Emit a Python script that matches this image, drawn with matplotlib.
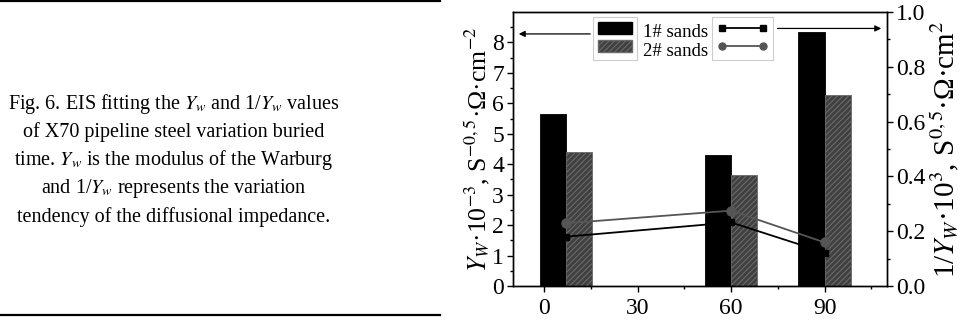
import numpy as np
import matplotlib
matplotlib.use("Agg")
import matplotlib.pyplot as plt
from matplotlib.patches import Patch
from matplotlib.lines import Line2D
from matplotlib import font_manager

names = {f.name for f in font_manager.fontManager.ttflist}
serif = [n for n in ['Liberation Serif', 'STIXGeneral', 'DejaVu Serif'] if n in names]
plt.rcParams['font.family'] = serif
plt.rcParams['mathtext.fontset'] = 'stix'
plt.rcParams['hatch.linewidth'] = 0.8

# buried time (days)
days = [7, 60, 90]
# Warburg modulus Yw*10^-3 (left axis)
yw_sand1 = [5.64, 4.29, 8.33]
yw_sand2 = [4.40, 3.65, 6.27]
# 1/Yw*10^3 (right axis)
inv_sand1 = [0.180, 0.232, 0.122]
inv_sand2 = [0.229, 0.275, 0.159]
sand_labels = ['1# sands', '2# sands']
xticks = [0, 30, 60, 90]

caption = [
    r'Fig. 6. EIS fitting the $Y_w$ and 1/$Y_w$ values',
    'of X70 pipeline steel variation buried',
    r'time. $Y_w$ is the modulus of the Warburg',
    r'and 1/$Y_w$ represents the variation',
    'tendency of the diffusional impedance.',
]

W, H = 960, 323
fig = plt.figure(figsize=(9.6, 3.23), dpi=100)

# caption block with rules above and below
fig.add_artist(Line2D([0, 440 / W], [1 - 1 / H, 1 - 1 / H], color='black', lw=1.6))
fig.add_artist(Line2D([0, 440 / W], [1 - 315 / H, 1 - 315 / H], color='black', lw=1.6))
for i, line in enumerate(caption):
    fig.text(174 / W, 1 - (108.5 + 28.3 * i) / H, line, ha='center', va='baseline',
             fontsize=14.5)

ax = fig.add_axes([513 / W, 1 - 286 / H, 374 / W, 274 / H])
bw = 8.4
x = np.array(days, dtype=float)
ax.bar(x - bw / 2, yw_sand1, width=bw, color='black', edgecolor='black', lw=0.6, zorder=2)
ax.bar(x + bw / 2, yw_sand2, width=bw, color='#404040', edgecolor='#6a6a6a',
       hatch='//////', lw=0.6, zorder=2)

ax.set_xlim(-10, 110)
ax.set_ylim(0, 9)
ax.set_xticks(xticks)
ax.set_xticks([15, 45, 75, 105], minor=True)
ax.set_yticks(range(0, 9))
ax.set_yticks(np.arange(0.5, 9, 1.0), minor=True)
ax.tick_params(which='major', direction='out', length=4.5, width=1, labelsize=17, pad=2)
ax.tick_params(which='minor', direction='out', length=2.5, width=1)
ax.tick_params(axis='x', which='major', pad=4)
ax.set_ylabel(r'$Y_W$·10$^{-3}$, S$^{-0,5}$·Ω·cm$^{-2}$', fontsize=18.5, labelpad=0)

ax2 = ax.twinx()
ax2.plot(days, inv_sand1, '-s', color='black', ms=4, lw=1.3, zorder=3)
ax2.plot(days, inv_sand2, '-o', color='#555555', ms=6.5, lw=1.3, zorder=3)
ax2.set_ylim(0, 1.0)
ax2.set_yticks(np.arange(0, 1.01, 0.2))
ax2.set_yticks(np.arange(0.1, 1.0, 0.2), minor=True)
ax2.yaxis.set_major_formatter(matplotlib.ticker.FormatStrFormatter('%.1f'))
ax2.tick_params(which='major', direction='out', length=4.5, width=1, labelsize=17, pad=2)
ax2.tick_params(which='minor', direction='out', length=2.5, width=1)
ax2.set_ylabel(r'1/$Y_W$·10$^{3}$, S$^{0,5}$·Ω·cm$^{2}$', fontsize=21, labelpad=2)
for a in (ax, ax2):
    for s in a.spines.values():
        s.set_linewidth(1.0)

# legends: bar handles and line handles in separate frames, names between them
bar_handles = [Patch(facecolor='black', edgecolor='black'),
               Patch(facecolor='#404040', edgecolor='#6a6a6a', hatch='//////')]
line_handles = [Line2D([], [], color='black', marker='s', ms=4, lw=1.3),
                Line2D([], [], color='#555555', marker='o', ms=5, lw=1.3)]
leg_kw = dict(loc='upper left', borderaxespad=0, fontsize=11, handleheight=0.8,
              handletextpad=0, labelspacing=0.25, borderpad=0.35, fancybox=False,
              edgecolor='#cccccc', framealpha=1)
leg1 = ax2.legend(bar_handles, ['', ''], bbox_to_anchor=(0.214, 0.982),
                  handlelength=2.2, **leg_kw)
leg1.get_frame().set_linewidth(0.8)
ax2.add_artist(leg1)
leg2 = ax2.legend(line_handles, ['', ''], bbox_to_anchor=(0.532, 0.982),
                  handlelength=3.3, numpoints=2, **leg_kw)
leg2.get_frame().set_linewidth(0.8)
for i, lab in enumerate(sand_labels):
    ax2.text(0.347, 0.925 - 0.07 * i, lab, transform=ax2.transAxes, fontsize=13.5,
             va='center', ha='left')

# arrows pointing to the axis each series belongs to
ax2.annotate('', xy=(0.008, 0.92), xytext=(0.214, 0.92), xycoords='axes fraction',
             arrowprops=dict(arrowstyle='-|>', color='black', lw=0.9, mutation_scale=9))
ax2.annotate('', xy=(0.992, 0.94), xytext=(0.70, 0.94), xycoords='axes fraction',
             arrowprops=dict(arrowstyle='-|>', color='black', lw=0.9, mutation_scale=9))

fig.savefig('out.png', dpi=100)
